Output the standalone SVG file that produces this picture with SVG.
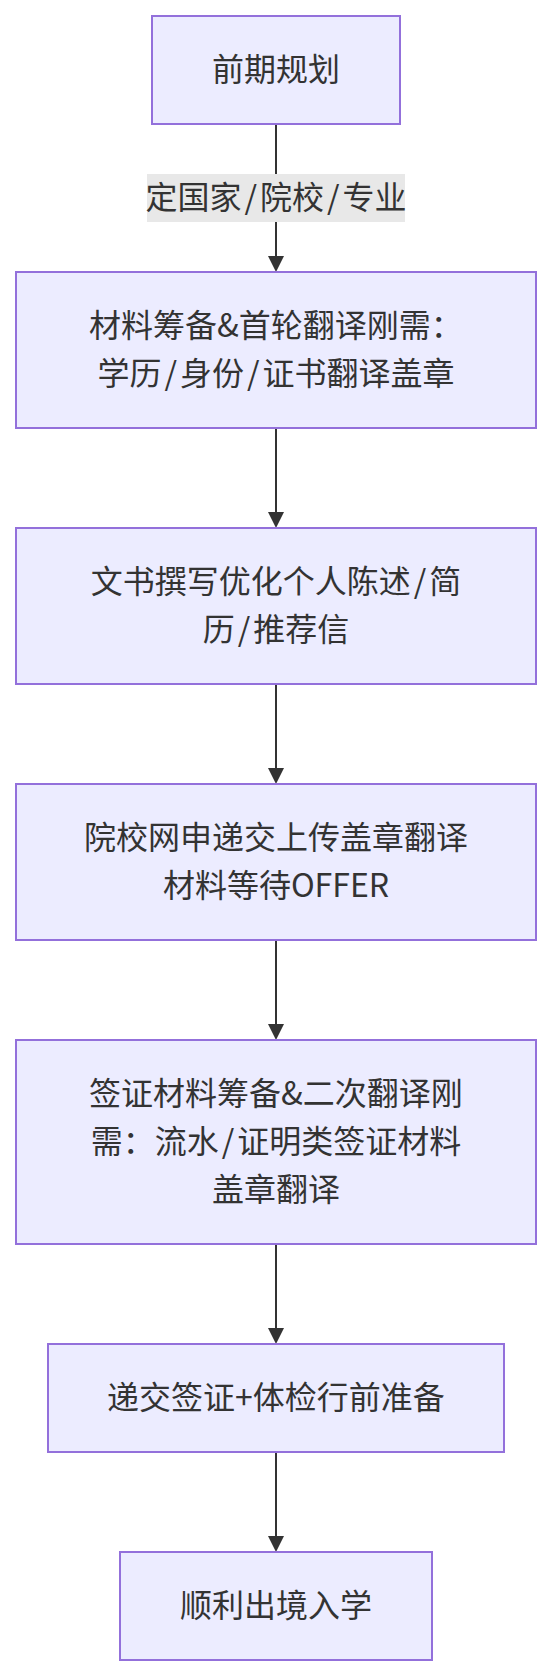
<svg xmlns="http://www.w3.org/2000/svg" width="552" height="1676" viewBox="0 0 552 1676">
<defs>
<style>
.node rect{fill:#ECECFF;stroke:#9370DB;stroke-width:2}
.node text,.elabel text{font-family:"Noto Sans CJK SC","Noto Sans",sans-serif;font-size:32px;fill:#333333;text-anchor:middle}
.edge{stroke:#333333;stroke-width:2;fill:none;marker-end:url(#arrow)}
.elabel rect{fill:#E8E8E8}
</style>
<marker id="arrow" viewBox="0 0 10 10" refX="5" refY="5" markerUnits="userSpaceOnUse" markerWidth="16" markerHeight="16" orient="auto">
<path d="M0,0 L10,5 L0,10 z" fill="#333333"/>
</marker>
</defs>
<rect width="552" height="1676" fill="#FFFFFF"/>
<g id="connectors">
<line class="edge" x1="276" y1="124" x2="276" y2="264"/>
<line class="edge" x1="276" y1="428" x2="276" y2="520"/>
<line class="edge" x1="276" y1="684" x2="276" y2="776"/>
<line class="edge" x1="276" y1="940" x2="276" y2="1032"/>
<line class="edge" x1="276" y1="1244" x2="276" y2="1336"/>
<line class="edge" x1="276" y1="1452" x2="276" y2="1544"/>
<g class="elabel" id="label-1">
<rect x="147" y="174" width="258" height="48"/>
<text x="276" y="209">定国家<tspan dx="3">/</tspan><tspan dx="3">院校</tspan><tspan dx="3">/</tspan><tspan dx="3">专业</tspan></text>
</g>
</g>
<g class="node" id="n1">
<rect x="152" y="16" width="248" height="108"/>
<text x="276" y="81">前期规划</text>
</g>
<g class="node" id="n2">
<rect x="16" y="272" width="520" height="156"/>
<text x="276" y="337">材料筹备&amp;首轮翻译刚需：</text>
<text x="276" y="385">学历<tspan dx="3">/</tspan><tspan dx="3">身份</tspan><tspan dx="3">/</tspan><tspan dx="3">证书翻译盖章</tspan></text>
</g>
<g class="node" id="n3">
<rect x="16" y="528" width="520" height="156"/>
<text x="276" y="593">文书撰写优化个人陈述<tspan dx="3">/</tspan><tspan dx="3">简</tspan></text>
<text x="276" y="641">历<tspan dx="3">/</tspan><tspan dx="3">推荐信</tspan></text>
</g>
<g class="node" id="n4">
<rect x="16" y="784" width="520" height="156"/>
<text x="276" y="849">院校网申递交上传盖章翻译</text>
<text x="276" y="897">材料等待OFFER</text>
</g>
<g class="node" id="n5">
<rect x="16" y="1040" width="520" height="204"/>
<text x="276" y="1105">签证材料筹备&amp;二次翻译刚</text>
<text x="276" y="1153">需：流水<tspan dx="3">/</tspan><tspan dx="3">证明类签证材料</tspan></text>
<text x="276" y="1201">盖章翻译</text>
</g>
<g class="node" id="n6">
<rect x="48" y="1344" width="456" height="108"/>
<text x="276" y="1409">递交签证+体检行前准备</text>
</g>
<g class="node" id="n7">
<rect x="120" y="1552" width="312" height="108"/>
<text x="276" y="1617">顺利出境入学</text>
</g>
</svg>
